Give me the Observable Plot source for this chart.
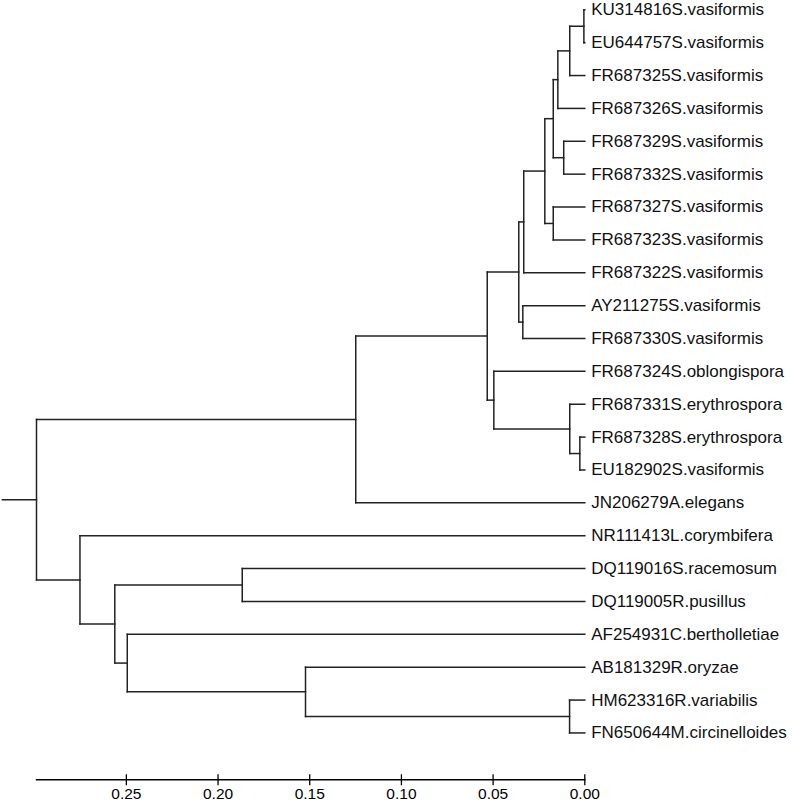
<!DOCTYPE html>
<html>
<head>
<meta charset="utf-8">
<script src="https://cdn.jsdelivr.net/npm/d3@7"></script>
<script src="https://cdn.jsdelivr.net/npm/@observablehq/plot@0.6"></script>
<style>
  html, body { margin: 0; padding: 0; background: #fff; }
  #chart { width: 796px; height: 801px; overflow: hidden; }
</style>
</head>
<body>
<div id="chart"></div>
<script>
// Leaf order (top to bottom)
const leaves = [
  "KU314816S.vasiformis", "EU644757S.vasiformis", "FR687325S.vasiformis",
  "FR687326S.vasiformis", "FR687329S.vasiformis", "FR687332S.vasiformis",
  "FR687327S.vasiformis", "FR687323S.vasiformis", "FR687322S.vasiformis",
  "AY211275S.vasiformis", "FR687330S.vasiformis", "FR687324S.oblongispora",
  "FR687331S.erythrospora", "FR687328S.erythrospora", "EU182902S.vasiformis",
  "JN206279A.elegans", "NR111413L.corymbifera", "DQ119016S.racemosum",
  "DQ119005R.pusillus", "AF254931C.bertholletiae", "AB181329R.oryzae",
  "HM623316R.variabilis", "FN650644M.circinelloides"
];

// Internal nodes (merge order): id, left child, right child, height
const nodeIds = ["n1","n2","n3","n4","n5","n6","n7","n8","n9","n10","n11",
  "n12","n13","n14","n15","n16","n17","n18","n19","n20","n21","n22"];
const nodeLeft = [
  "KU314816S.vasiformis", "n1", "n2", "FR687329S.vasiformis", "n3",
  "FR687327S.vasiformis", "n5", "n7", "AY211275S.vasiformis", "n8",
  "FR687328S.erythrospora", "FR687331S.erythrospora", "FR687324S.oblongispora",
  "n10", "n14", "DQ119016S.racemosum", "HM623316R.variabilis",
  "AB181329R.oryzae", "AF254931C.bertholletiae", "n16",
  "NR111413L.corymbifera", "n15"
];
const nodeRight = [
  "EU644757S.vasiformis", "FR687325S.vasiformis", "FR687326S.vasiformis",
  "FR687332S.vasiformis", "n4", "FR687323S.vasiformis", "n6",
  "FR687322S.vasiformis", "FR687330S.vasiformis", "n9",
  "EU182902S.vasiformis", "n11", "n12", "n13", "JN206279A.elegans",
  "DQ119005R.pusillus", "FN650644M.circinelloides", "n17", "n18", "n19",
  "n20", "n21"
];
const nodeHeights = [
  0.0005, 0.0082, 0.0147, 0.0115, 0.0172, 0.0172, 0.0218, 0.0333, 0.0338,
  0.0360, 0.0027, 0.0082, 0.0496, 0.0532, 0.1249, 0.1868, 0.0083, 0.1523,
  0.2495, 0.2563, 0.2753, 0.2990
];
const rootEdge = 0.0186;

// Axis ticks
const tickValues = [0.25, 0.20, 0.15, 0.10, 0.05, 0.00];
const tickLabels = ["0.25", "0.20", "0.15", "0.10", "0.05", "0.00"];

// ---- layout ----
const pos = new Map();
leaves.forEach((name, i) => pos.set(name, {x: 0, y: i}));
const segments = [];
nodeIds.forEach((id, k) => {
  const h = nodeHeights[k];
  const L = pos.get(nodeLeft[k]), R = pos.get(nodeRight[k]);
  segments.push({x1: h, y1: L.y, x2: h, y2: R.y});
  segments.push({x1: h, y1: L.y, x2: L.x, y2: L.y});
  segments.push({x1: h, y1: R.y, x2: R.x, y2: R.y});
  pos.set(id, {x: h, y: (L.y + R.y) / 2});
});
const rootNode = pos.get(nodeIds[nodeIds.length - 1]);
segments.push({x1: rootNode.x + rootEdge, y1: rootNode.y, x2: rootNode.x, y2: rootNode.y});

const leafRows = leaves.map((name, i) => ({name, i}));

const W = 796, H = 801;
const yTop = 9.3, yStep = 32.87;

const chart = Plot.plot({
  width: W,
  height: H,
  marginLeft: 36,
  marginRight: 211.7,
  marginTop: yTop,
  marginBottom: 21.7,
  style: {background: "#fff", overflow: "visible"},
  x: {domain: [rootNode.x, 0], axis: null},
  y: {domain: [0, leaves.length - 1], range: [yTop, yTop + yStep * (leaves.length - 1)], axis: null},
  marks: [
    Plot.link(segments, {
      x1: "x1", y1: "y1", x2: "x2", y2: "y2",
      stroke: "#222", strokeWidth: 1.5, strokeLinecap: "square"
    }),
    Plot.text(leafRows, {
      x: () => 0, y: "i", text: "name",
      textAnchor: "start", dx: 6.4,
      fontSize: 17, fontFamily: "Arial, 'Liberation Sans', sans-serif",
      fill: "#111"
    }),
    Plot.frame({anchor: "bottom", stroke: "#000", strokeWidth: 1.4}),
    Plot.axisX(tickValues, {
      tickSize: 11, dy: -5, tickPadding: 2,
      tickFormat: (d) => tickLabels[tickValues.indexOf(d)],
      fontSize: 15.5, fontFamily: "'Liberation Sans Narrow', 'Arial Narrow', Arial, sans-serif",
      fill: "#000", stroke: "#000", strokeWidth: 1.3
    })
  ]
});
document.getElementById("chart").appendChild(chart);
</script>
</body>
</html>
